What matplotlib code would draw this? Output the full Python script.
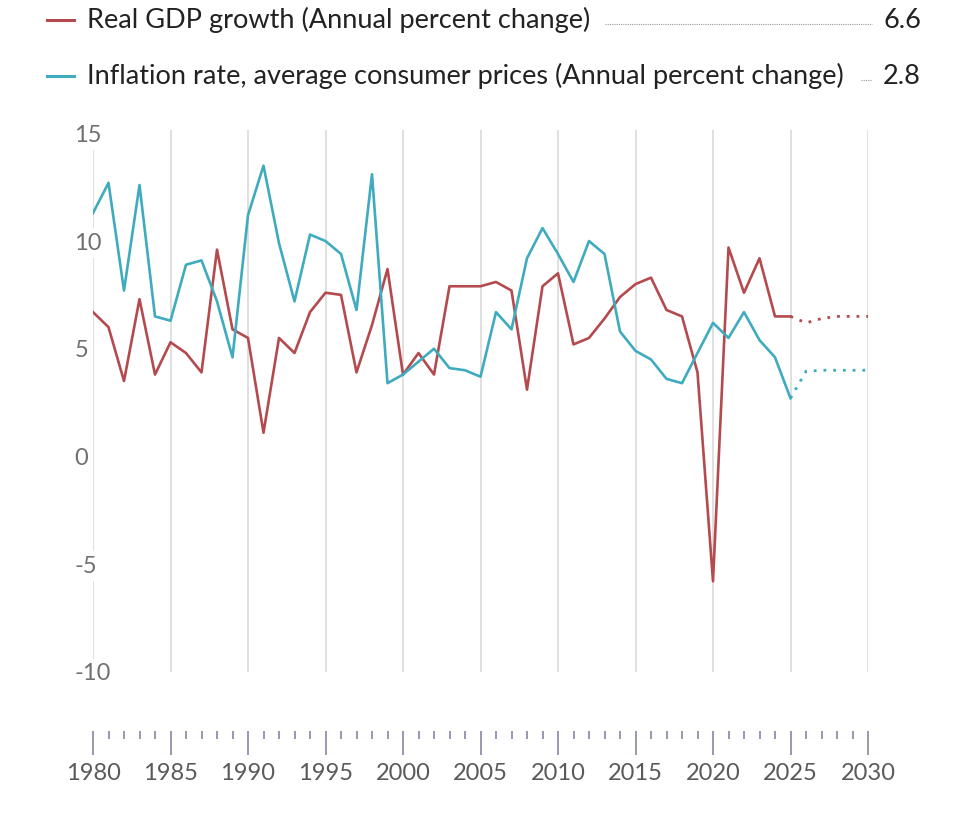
import matplotlib.pyplot as plt
from matplotlib.lines import Line2D

plt.rcParams['font.family'] = ['Lato', 'DejaVu Sans']

years = list(range(1980, 2026))
gdp = [6.8, 6.1, 3.6, 7.4, 3.9, 5.4, 4.9, 4.0, 9.7, 6.0,
       5.6, 1.2, 5.6, 4.9, 6.8, 7.7, 7.6, 4.0, 6.2, 8.8,
       3.9, 4.9, 3.9, 8.0, 8.0, 8.0, 8.2, 7.8, 3.2, 8.0,
       8.6, 5.3, 5.6, 6.5, 7.5, 8.1, 8.4, 6.9, 6.6, 4.0,
       -5.7, 9.8, 7.7, 9.3, 6.6, 6.6]
inflation = [11.4, 12.8, 7.8, 12.7, 6.6, 6.4, 9.0, 9.2, 7.3, 4.7,
             11.3, 13.6, 10.0, 7.3, 10.4, 10.1, 9.5, 6.9, 13.2, 3.5,
             3.9, 4.5, 5.1, 4.2, 4.1, 3.8, 6.8, 6.0, 9.3, 10.7,
             9.5, 8.2, 10.1, 9.5, 5.9, 5.0, 4.6, 3.7, 3.5, 4.9,
             6.3, 5.6, 6.8, 5.5, 4.7, 2.8]

proj_years = list(range(2025, 2031))
gdp_proj = [6.6, 6.3, 6.5, 6.6, 6.6, 6.6]
inflation_proj = [2.8, 4.05, 4.1, 4.1, 4.1, 4.1]

series_names = ['Real GDP growth (Annual percent change)',
                'Inflation rate, average consumer prices (Annual percent change)']
latest_values = ['6.6', '2.8']
colors = ['#b44a4e', '#3eabbf']

y_ticks = [15, 10, 5, 0, -5, -10]
x_major = list(range(1980, 2031, 5))
x_minor = list(range(1980, 2031))

W, H = 973, 815
fig = plt.figure(figsize=(W / 100, H / 100), dpi=100)

# axes: x 93..868 px, y 120..731 px
ax = fig.add_axes([93 / W, (H - 731) / H, (868 - 93) / W, (731 - 120) / H])
ax.set_xlim(1980, 2030)
ax.set_ylim(-12.65, 15.72)
for s in ax.spines.values():
    s.set_visible(False)

# vertical gridlines
ax.vlines(x_major, -9.9, 15.25, color='#dadada', lw=1.2, zorder=1)

# y labels sit on top of the 1980 line, white box breaks the line
for v in y_ticks:
    ax.text(1978.8, v, f'{v}', ha='left', va='center', fontsize=17, color='#707070',
            bbox=dict(facecolor='white', edgecolor='none', pad=3), zorder=2)
ax.set_yticks([])

ax.plot(years, gdp, color=colors[0], lw=1.9, zorder=3)
ax.plot(years, inflation, color=colors[1], lw=1.9, zorder=3)
ax.plot(proj_years, gdp_proj, color=colors[0], lw=2, dashes=(1, 2.5), zorder=3)
ax.plot(proj_years, inflation_proj, color=colors[1], lw=2, dashes=(1, 2.5), zorder=3)

ax.set_xticks(x_major)
ax.set_xticks(x_minor, minor=True)
ax.tick_params(axis='x', which='major', length=17, width=1.1, color='#7c7c9c',
               pad=6, labelsize=17, labelcolor='#5a5a5a')
ax.tick_params(axis='x', which='minor', length=5.5, width=1.1, color='#7c7c9c')

# legend rows at the top
rows_y = [20, 76]
leader_start = [605, 861]
for i in range(2):
    yf = 1 - rows_y[i] / H
    fig.add_artist(Line2D([47 / W, 74 / W], [yf, yf], color=colors[i], lw=2.2))
    fig.text(87 / W, yf, series_names[i], ha='left', va='center', fontsize=19.5, color='#222222')
    ly = 1 - (rows_y[i] + 4) / H
    fig.add_artist(Line2D([leader_start[i] / W, 872 / W], [ly, ly], color='#999999',
                          lw=0.8, dashes=(1, 1)))
    fig.text(921 / W, yf, latest_values[i], ha='right', va='center', fontsize=19.5, color='#222222')

fig.savefig('out.png', dpi=100)
